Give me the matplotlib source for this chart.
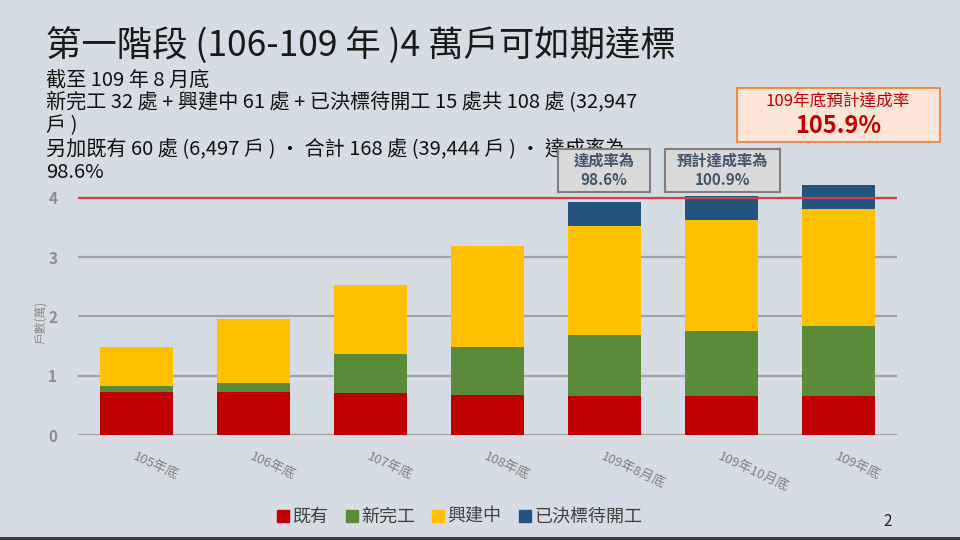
import matplotlib
matplotlib.use("Agg")
import matplotlib.pyplot as plt
from matplotlib.patches import Rectangle
from matplotlib.lines import Line2D

plt.rcParams['font.family'] = ['Noto Sans CJK TC', 'DejaVu Sans']

categories = ['105年底', '106年底', '107年底', '108年底', '109年8月底', '109年10月底', '109年底']
existing = [0.73, 0.72, 0.70, 0.675, 0.65, 0.65, 0.65]
completed = [0.10, 0.16, 0.67, 0.815, 1.03, 1.11, 1.18]
building = [0.66, 1.07, 1.16, 1.69, 1.85, 1.86, 1.98]
awarded = [0.0, 0.0, 0.0, 0.0, 0.40, 0.41, 0.41]
series_names = ['既有', '新完工', '興建中', '已決標待開工']
colors = ['#C00000', '#5A8A3A', '#FFC000', '#22547F']
target = 4
yticks = [0, 1, 2, 3, 4]

BG = '#D6DCE4'
W, H = 960, 540
fig = plt.figure(figsize=(9.6, 5.4), dpi=100, facecolor=BG)

def fx(px):
    return px / W

def fy(py):
    return 1 - py / H

ax = fig.add_axes([fx(78), fy(435), fx(897) - fx(78), fy(180) - fy(435)])
ax.set_facecolor(BG)
ax.set_xlim(-0.5, len(categories) - 0.5)
ax.set_ylim(0, 4.3)

x = list(range(len(categories)))
bottom = [0.0] * len(categories)
for vals, c in zip([existing, completed, building, awarded], colors):
    ax.bar(x, vals, width=0.62, bottom=bottom, color=c, zorder=3)
    bottom = [b + v for b, v in zip(bottom, vals)]

for t in yticks[:-1]:
    ax.axhline(t, color='#A3A3A3', lw=1.6, zorder=1)
ax.axhline(target, color='#E03A3E', lw=1.6, zorder=4)

for s in ax.spines.values():
    s.set_visible(False)
ax.set_yticks(yticks)
ax.set_yticklabels([str(t) for t in yticks], color='#8C8C8C', fontsize=11, fontweight='bold')
ax.tick_params(axis='y', length=0, pad=15)
ax.set_xticks(x)
ax.set_xticklabels(categories, rotation=-25, ha='left', va='top', rotation_mode='anchor',
                   color='#7F7F7F', fontsize=9.5)
ax.tick_params(axis='x', length=0, pad=11)
fig.text(fx(41), fy(322), '戶數(萬)', rotation=90, color='#8C8C8C', fontsize=8.5, ha='center', va='center')

# Title and text
fig.text(fx(46), fy(46), '第一階段 (106-109 年 )4 萬戶可如期達標', fontsize=25.5, color='#1A1A1A',
         ha='left', va='center')
lines = ['截至 109 年 8 月底',
         '新完工 32 處 + 興建中 61 處 + 已決標待開工 15 處共 108 處 (32,947',
         '戶 )',
         '另加既有 60 處 (6,497 戶 ) ‧ 合計 168 處 (39,444 戶 ) ‧ 達成率為',
         '98.6%']
ys = [80, 103, 126, 149, 172]
for t, yy in zip(lines, ys):
    fig.text(fx(46), fy(yy), t, fontsize=14.5, color='#111111', ha='left', va='center', zorder=1)

# Annotation boxes
def box(x0, y0, x1, y1, fc, ec, lw):
    r = Rectangle((fx(x0), fy(y1)), fx(x1) - fx(x0), fy(y0) - fy(y1), transform=fig.transFigure,
                  facecolor=fc, edgecolor=ec, lw=lw, zorder=5)
    fig.patches.append(r)

box(558, 149, 650, 192, '#D9D9D9', '#7F7F7F', 1.5)
fig.text(fx(604), fy(161), '達成率為', fontsize=11, color='#44546A', ha='center', va='center', fontweight='bold', zorder=6)
fig.text(fx(604), fy(180), '98.6%', fontsize=11, color='#44546A', ha='center', va='center', fontweight='bold', zorder=6)

box(665, 149, 780, 192, '#D9D9D9', '#7F7F7F', 1.5)
fig.text(fx(722), fy(161), '預計達成率為', fontsize=11, color='#44546A', ha='center', va='center', fontweight='bold', zorder=6)
fig.text(fx(722), fy(180), '100.9%', fontsize=11, color='#44546A', ha='center', va='center', fontweight='bold', zorder=6)

box(737, 88, 940, 142, '#FBE5D6', '#ED7D31', 1.2)
fig.text(fx(838), fy(101), '109年底預計達成率', fontsize=12, color='#C00000', ha='center', va='center', zorder=6)
fig.text(fx(838), fy(126), '105.9%', fontsize=17, color='#C00000', ha='center', va='center', fontweight='bold', zorder=6)

# Legend
handles = [Line2D([0], [0], marker='s', color='none', markerfacecolor=c, markeredgecolor=c, markersize=8)
           for c in colors]
leg = fig.legend(handles, series_names, loc='center', bbox_to_anchor=(fx(460), fy(517)), ncol=4,
                 frameon=False, fontsize=13, handlelength=0.6, handletextpad=0.2, columnspacing=1.0)
for t in leg.get_texts():
    t.set_color('#404040')

fig.text(fx(888), fy(521), '2', fontsize=11, color='#222222', ha='center', va='center')

# bottom dark strip
fig.patches.append(Rectangle((0, 0), 1, 3 / H, transform=fig.transFigure, facecolor='#3B3F45',
                             edgecolor='none', zorder=10))

fig.savefig('out.png', dpi=100, facecolor=BG)
